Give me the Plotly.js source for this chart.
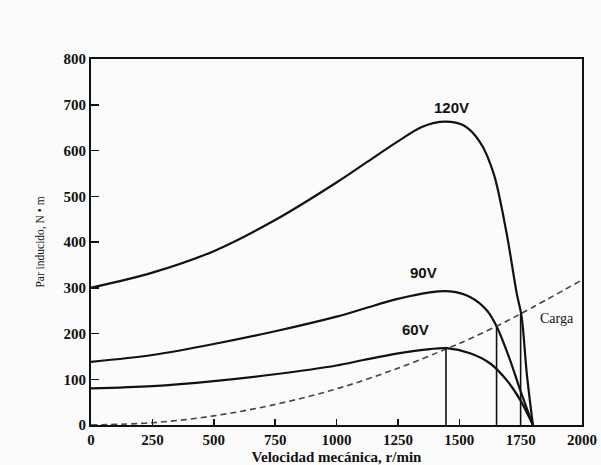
<!DOCTYPE html>
<html>
<head>
<meta charset="utf-8">
<script src="https://cdn.plot.ly/plotly-3.0.1.min.js"></script>
<style>html,body{margin:0;padding:0;background:#fbfbfb;}</style>
</head>
<body>
<div id="chart" style="width:601px;height:465px;"></div>
<script>
// Speed (r/min) and induced torque (N·m)
const speed120 = [0, 250, 500, 750, 1000, 1125, 1250, 1350, 1442, 1517, 1585, 1640, 1693, 1734, 1754, 1775, 1800];
const torque120 = [300, 333, 380, 448, 530, 575, 620, 652, 663, 655, 618, 550, 419, 288, 237, 113, 0];

const speed90 = [0, 250, 500, 750, 1000, 1110, 1245, 1380, 1463, 1544, 1612, 1653, 1707, 1748, 1800];
const torque90 = [138, 153, 177, 205, 237, 254, 275, 290, 292, 280, 251, 215, 142, 77, 0];

const speed60 = [0, 250, 500, 750, 1000, 1110, 1245, 1380, 1449, 1544, 1625, 1693, 1748, 1800];
const torque60 = [80, 85, 96, 111, 130, 142, 156, 166, 168, 157, 135, 98, 55, 0];

const speedLoad = [0, 250, 500, 750, 1000, 1250, 1446, 1500, 1652, 1750, 2000];
const torqueLoad = [0, 5, 20, 45, 79, 124, 166, 178, 216, 243, 317];

// Operating points (curve ∩ load)
const opSpeed = [1446, 1652, 1750];
const opTorque = [168, 216, 243];

const curveLabels = ["120V", "90V", "60V"];
const labelSpeed = [1469, 1354, 1320];
const labelTorque = [695, 333, 208];

const curveStyle = {color: "#111", width: 2.2, shape: "spline", smoothing: 0.9};
const traces = [
  {x: speed120, y: torque120, mode: "lines", line: curveStyle, cliponaxis: false},
  {x: speed90, y: torque90, mode: "lines", line: curveStyle, cliponaxis: false},
  {x: speed60, y: torque60, mode: "lines", line: curveStyle, cliponaxis: false},
  {x: speedLoad, y: torqueLoad, mode: "lines", line: {color: "#444", width: 1.6, dash: "6px,4px", shape: "spline"}, cliponaxis: false}
];
opSpeed.forEach((s, i) => {
  traces.push({x: [s, s], y: [0, opTorque[i]], mode: "lines", line: {color: "#111", width: 1.6}});
});

const annotations = curveLabels.map((t, i) => ({
  x: labelSpeed[i], y: labelTorque[i], text: t, showarrow: false,
  font: {family: "Liberation Sans, Arial", size: 15, color: "#111", weight: "bold"}
}));
annotations.push({x: 1897, y: 233, text: "Carga", showarrow: false,
  font: {family: "Liberation Serif, Times New Roman", size: 14, color: "#111"}});

const tickFont = {family: "Liberation Serif, Times New Roman", size: 15, color: "#111", weight: "bold"};
const layout = {
  width: 601, height: 465,
  margin: {l: 91, r: 19, t: 59, b: 40},
  paper_bgcolor: "#fbfbfb", plot_bgcolor: "#fbfbfb",
  showlegend: false,
  xaxis: {
    range: [0, 2000], tickvals: [0, 250, 500, 750, 1000, 1250, 1500, 1750, 2000],
    ticks: "inside", ticklen: 6, tickwidth: 1.5, tickcolor: "#111",
    showline: true, linecolor: "#111", linewidth: 2, mirror: true,
    showgrid: false, zeroline: false, tickfont: tickFont,
    title: {text: "Velocidad mecánica, r/min", font: {family: "Liberation Serif, Times New Roman", size: 15, color: "#111", weight: "bold"}, standoff: 6}
  },
  yaxis: {
    range: [0, 800], tickvals: [0, 100, 200, 300, 400, 500, 600, 700, 800],
    ticks: "inside", ticklen: 8, tickwidth: 1.5, tickcolor: "#111",
    showline: true, linecolor: "#111", linewidth: 2, mirror: true,
    showgrid: false, zeroline: false, tickfont: tickFont,
    title: {text: "Par inducido, N • m", font: {family: "Liberation Serif, Times New Roman", size: 11.5, color: "#111"}, standoff: 16}
  },
  annotations: annotations
};
Plotly.newPlot("chart", traces, layout, {displayModeBar: false, staticPlot: true});
</script>
</body>
</html>
